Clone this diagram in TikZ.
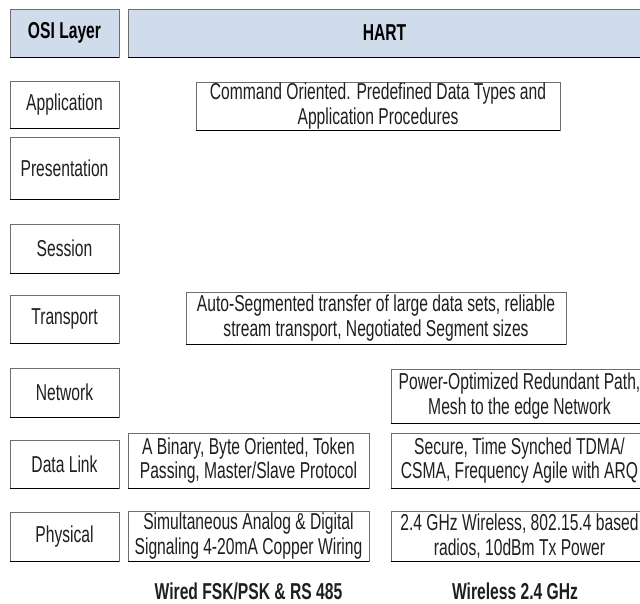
\documentclass[tikz,border=0pt]{standalone}
\usepackage{fontspec}
\setmainfont{Liberation Sans}[FakeStretch=0.68]
\definecolor{hdrfill}{RGB}{208,219,235}
\definecolor{edgegray}{RGB}{110,110,110}
\tikzset{
  box/.style={draw=edgegray, line width=0.8pt, inner sep=0pt, align=center,
    font=\fontsize{23}{24.5}\selectfont, text=black!88,
    append after command={(\tikzlastnode.south west) edge[draw=black, line width=1.2pt] (\tikzlastnode.south east)}},
  hdr/.style={box, fill=hdrfill, font=\fontsize{23}{24.5}\selectfont\bfseries, text=black},
  osi/.style={box, minimum width=109pt},
  lbl/.style={inner sep=0pt, font=\fontsize{23}{24.5}\selectfont\bfseries, text=black!88}
}
\begin{document}
\begin{tikzpicture}[x=1pt,y=-1pt]
\useasboundingbox (0,0) rectangle (640,604);
\fill[white] (0,0) rectangle (640,604);
% header
\node[hdr, minimum width=109pt, minimum height=48pt] (osihdr) at (64.5,33) {OSI Layer};
\node[hdr, minimum width=513pt, minimum height=48pt] (harthdr) at (384.5,33) {HART};
% OSI layers
\node[osi, minimum height=47pt] (app) at (64.5,104.5) {Application};
\node[osi, minimum height=62pt] (pres) at (64.5,168) {Presentation};
\node[osi, minimum height=49pt] (sess) at (64.5,248.5) {Session};
\node[osi, minimum height=48pt] (trans) at (64.5,319) {Transport};
\node[osi, minimum height=49pt] (net) at (64.5,392.5) {Network};
\node[osi, minimum height=48pt] (dl) at (64.5,464) {Data Link};
\node[osi, minimum height=49pt] (phy) at (64.5,536.5) {Physical};
% HART descriptions
\node[box, minimum width=364pt, minimum height=48pt] (cmd) at (378,106)
  {Command Oriented. Predefined Data Types and\\Application Procedures};
\node[box, minimum width=380pt, minimum height=52pt] (auto) at (376,318)
  {Auto-Segmented transfer of large data sets, reliable\\stream transport, Negotiated Segment sizes};
\node[box, minimum width=257pt, minimum height=54pt] (power) at (519.5,396)
  {Power-Optimized Redundant Path,\\Mesh to the edge Network};
\node[box, minimum width=241pt, minimum height=55pt] (binary) at (248.5,460.5)
  {A Binary, Byte Oriented, Token\\Passing, Master/Slave Protocol};
\node[box, minimum width=257pt, minimum height=55pt] (secure) at (519.5,460.5)
  {Secure, Time Synched TDMA/\\CSMA, Frequency Agile with ARQ};
\node[box, minimum width=241pt, minimum height=50pt] (simul) at (248.5,536)
  {Simultaneous Analog \& Digital\\Signaling 4-20mA Copper Wiring};
\node[box, minimum width=257pt, minimum height=50pt] (wless) at (519.5,536)
  {2.4 GHz Wireless, 802.15.4 based\\radios, 10dBm Tx Power};
% column labels
\node[lbl] (wired) at (248.5,591) {Wired FSK/PSK \& RS 485};
\node[lbl] (wireless) at (515,591) {Wireless 2.4 GHz};
\end{tikzpicture}
\end{document}
